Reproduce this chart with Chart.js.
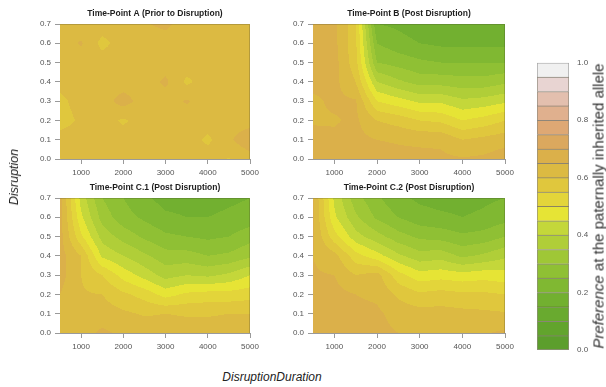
<!DOCTYPE html>
<html>
<head>
<meta charset="utf-8">
<script src="https://cdn.jsdelivr.net/npm/chart.js@4.4.1/dist/chart.umd.min.js"></script>
<style>
  body { margin: 0; background: #fff; }
  #wrap { position: relative; width: 606px; height: 387px; overflow: hidden; font-family: 'Liberation Sans', Arial, sans-serif; }
  canvas { position: absolute; }
  .lbl { position: absolute; white-space: nowrap; color: #222; font-size: 12px; transform: translate(-50%, -50%); }
  .rot { transform: translate(-50%, -50%) rotate(-90deg); }
</style>
</head>
<body>
<div id="wrap">
  <canvas id="panelA" width="300" height="185" style="left:0;top:0"></canvas>
  <canvas id="panelB" width="300" height="185" style="left:253px;top:0"></canvas>
  <canvas id="panelC1" width="300" height="185" style="left:0;top:174px"></canvas>
  <canvas id="panelC2" width="300" height="185" style="left:253px;top:174px"></canvas>
  <canvas id="colorbar" width="86" height="320" style="left:520px;top:50px"></canvas>
  <div class="lbl rot" style="left:14px;top:177px;font-style:italic;font-size:12.5px">Disruption</div>
  <div class="lbl" style="left:272px;top:377px;font-style:italic">DisruptionDuration</div>
  <div class="lbl rot" style="left:598px;top:206px;font-size:15px;color:#333"><i>Preference</i> at the paternally inherited allele</div>
</div>
<script>
// grid axes
const durations = [500, 1000, 1500, 2000, 2500, 3000, 3500, 4000, 4500, 5000];
const disruptions = [0.0, 0.1, 0.2, 0.3, 0.4, 0.5, 0.6, 0.7];
const durationTicks = [1000, 2000, 3000, 4000, 5000];
const disruptionTicks = [0.0, 0.1, 0.2, 0.3, 0.4, 0.5, 0.6, 0.7];

// preference values, one row per disruption (0.0 -> 0.7), one column per duration
const prefA = [
  [0.598, 0.625, 0.625, 0.625, 0.625, 0.625, 0.625, 0.625, 0.597, 0.625],
  [0.625, 0.625, 0.625, 0.625, 0.625, 0.625, 0.625, 0.590, 0.640, 0.690],
  [0.575, 0.610, 0.625, 0.592, 0.625, 0.625, 0.625, 0.625, 0.625, 0.625],
  [0.585, 0.625, 0.625, 0.672, 0.625, 0.625, 0.655, 0.625, 0.625, 0.625],
  [0.620, 0.625, 0.625, 0.625, 0.625, 0.660, 0.590, 0.625, 0.625, 0.625],
  [0.625, 0.625, 0.625, 0.625, 0.625, 0.625, 0.625, 0.625, 0.625, 0.625],
  [0.625, 0.655, 0.585, 0.625, 0.625, 0.625, 0.625, 0.625, 0.625, 0.625],
  [0.625, 0.625, 0.625, 0.625, 0.645, 0.662, 0.625, 0.625, 0.625, 0.625]
];
const prefB = [
  [0.670, 0.670, 0.670, 0.670, 0.665, 0.665, 0.660, 0.655, 0.660, 0.680],
  [0.665, 0.660, 0.665, 0.650, 0.645, 0.640, 0.640, 0.600, 0.615, 0.630],
  [0.645, 0.645, 0.660, 0.600, 0.580, 0.550, 0.540, 0.500, 0.520, 0.550],
  [0.640, 0.660, 0.655, 0.500, 0.470, 0.440, 0.440, 0.410, 0.420, 0.440],
  [0.665, 0.665, 0.600, 0.400, 0.360, 0.330, 0.330, 0.320, 0.320, 0.340],
  [0.670, 0.670, 0.570, 0.300, 0.280, 0.260, 0.250, 0.250, 0.250, 0.250],
  [0.670, 0.665, 0.560, 0.250, 0.220, 0.200, 0.190, 0.190, 0.190, 0.190],
  [0.670, 0.665, 0.560, 0.200, 0.190, 0.170, 0.165, 0.165, 0.165, 0.170]
];
const prefC1 = [
  [0.630, 0.630, 0.660, 0.640, 0.630, 0.630, 0.625, 0.625, 0.625, 0.625],
  [0.640, 0.615, 0.625, 0.610, 0.595, 0.600, 0.595, 0.595, 0.600, 0.600],
  [0.650, 0.605, 0.600, 0.560, 0.530, 0.480, 0.510, 0.520, 0.520, 0.530],
  [0.670, 0.600, 0.550, 0.480, 0.430, 0.380, 0.400, 0.390, 0.410, 0.450],
  [0.670, 0.600, 0.440, 0.400, 0.360, 0.320, 0.320, 0.300, 0.310, 0.340],
  [0.670, 0.510, 0.380, 0.330, 0.290, 0.260, 0.250, 0.240, 0.250, 0.280],
  [0.670, 0.460, 0.330, 0.270, 0.240, 0.210, 0.200, 0.200, 0.210, 0.220],
  [0.670, 0.430, 0.300, 0.250, 0.210, 0.180, 0.180, 0.180, 0.190, 0.200]
];
const prefC2 = [
  [0.680, 0.675, 0.670, 0.665, 0.650, 0.640, 0.640, 0.640, 0.645, 0.660],
  [0.670, 0.670, 0.665, 0.660, 0.630, 0.620, 0.620, 0.615, 0.610, 0.605],
  [0.660, 0.665, 0.650, 0.640, 0.590, 0.560, 0.570, 0.560, 0.560, 0.550],
  [0.655, 0.650, 0.600, 0.620, 0.520, 0.470, 0.480, 0.470, 0.480, 0.470],
  [0.650, 0.620, 0.520, 0.470, 0.410, 0.370, 0.380, 0.340, 0.360, 0.390],
  [0.655, 0.520, 0.420, 0.370, 0.320, 0.290, 0.280, 0.260, 0.270, 0.300],
  [0.655, 0.460, 0.360, 0.290, 0.250, 0.220, 0.210, 0.200, 0.210, 0.230],
  [0.655, 0.440, 0.320, 0.260, 0.210, 0.190, 0.180, 0.180, 0.190, 0.200]
];

// contour levels (0.05 wide, 0.0 -> 1.0)
const levelStep = 0.05;
const levelColors = [
  '#5c9e2c', '#62a42d', '#69aa2f', '#72b030', '#80b832',
  '#8fc034', '#9fc736', '#b0ce38', '#c4d73a', '#e6e435',
  '#e3d53a', '#e0c73d', '#dcba42', '#dbb04a', '#dba85e',
  '#dea874', '#e0b08e', '#e3bfae', '#e8d4d2', '#f0f0f0'
];
const legendTicks = [0.0, 0.2, 0.4, 0.6, 0.8, 1.0];

Chart.defaults.font.family = "'Liberation Sans', Arial, sans-serif";

const levelRGB = levelColors.map(h => [1, 3, 5].map(k => parseInt(h.substr(k, 2), 16)));

function cellIndex(arr, v) {
  let i = 0;
  while (i < arr.length - 2 && v > arr[i + 1]) i++;
  return i;
}

function valueAt(grid, x, y) {
  const i = cellIndex(durations, x);
  const j = cellIndex(disruptions, y);
  const tx = Math.min(1, Math.max(0, (x - durations[i]) / (durations[i + 1] - durations[i])));
  const ty = Math.min(1, Math.max(0, (y - disruptions[j]) / (disruptions[j + 1] - disruptions[j])));
  return grid[j][i] * (1 - tx) * (1 - ty) + grid[j][i + 1] * tx * (1 - ty) +
         grid[j + 1][i] * (1 - tx) * ty + grid[j + 1][i + 1] * tx * ty;
}

function contourPlugin(grid) {
  return {
    id: 'contourFill',
    beforeDatasetsDraw(chart) {
      const area = chart.chartArea;
      const xs = chart.scales.x, ys = chart.scales.y;
      const w = Math.round(area.right - area.left), h = Math.round(area.bottom - area.top);
      const off = document.createElement('canvas');
      off.width = w; off.height = h;
      const octx = off.getContext('2d');
      const img = octx.createImageData(w, h);
      for (let py = 0; py < h; py++) {
        const yv = ys.getValueForPixel(area.top + py + 0.5);
        for (let px = 0; px < w; px++) {
          const xv = xs.getValueForPixel(area.left + px + 0.5);
          const v = valueAt(grid, xv, yv);
          const lvl = Math.max(0, Math.min(levelColors.length - 1, Math.floor(v / levelStep)));
          const c = levelRGB[lvl];
          const o = (py * w + px) * 4;
          img.data[o] = c[0]; img.data[o + 1] = c[1]; img.data[o + 2] = c[2]; img.data[o + 3] = 255;
        }
      }
      octx.putImageData(img, 0, 0);
      const ctx = chart.ctx;
      ctx.save();
      ctx.drawImage(off, area.left, area.top, w, h);
      ctx.strokeStyle = 'rgba(60,60,40,0.25)';
      ctx.lineWidth = 1;
      ctx.beginPath();
      ctx.moveTo(area.left, area.top + 0.5);
      ctx.lineTo(area.right - 0.5, area.top + 0.5);
      ctx.lineTo(area.right - 0.5, area.bottom);
      ctx.stroke();
      ctx.restore();
    }
  };
}

const tickFont = { size: 8 };
const axisGrid = { drawOnChartArea: false, drawTicks: true, tickLength: 5, color: '#9a9a9a' };

function makePanel(id, title, grid, padRight) {
  new Chart(document.getElementById(id), {
    type: 'scatter',
    data: { datasets: [{ data: [], pointRadius: 0 }] },
    options: {
      responsive: false,
      animation: false,
      layout: { padding: { left: 0, right: padRight, top: 0, bottom: 0 } },
      plugins: {
        legend: { display: false },
        tooltip: { enabled: false },
        title: {
          display: true, text: title, fullSize: false, color: '#1e1e1e',
          font: { size: 8.5, weight: 'bold', lineHeight: '9px' },
          padding: { top: 9, bottom: 6 }
        }
      },
      scales: {
        x: {
          type: 'linear', min: 500, max: 5000,
          afterBuildTicks: s => { s.ticks = durationTicks.map(v => ({ value: v })); },
          afterFit: s => { s.height = 26; },
          ticks: { color: '#555', font: tickFont, padding: 4, maxRotation: 0, callback: v => String(v) },
          grid: axisGrid,
          border: { display: true, color: '#9a9a9a' }
        },
        y: {
          type: 'linear', min: 0, max: 0.7,
          afterBuildTicks: s => { s.ticks = disruptionTicks.map(v => ({ value: v })); },
          afterFit: s => { s.width = 60; },
          ticks: { color: '#555', font: tickFont, padding: 4, callback: v => v.toFixed(1) },
          grid: axisGrid,
          border: { display: true, color: '#9a9a9a' }
        }
      }
    },
    plugins: [contourPlugin(grid)]
  });
}

makePanel('panelA', 'Time-Point A (Prior to Disruption)', prefA, 50);
makePanel('panelB', 'Time-Point B (Post Disruption)', prefB, 48);
makePanel('panelC1', 'Time-Point C.1 (Post Disruption)', prefC1, 50);
makePanel('panelC2', 'Time-Point C.2 (Post Disruption)', prefC2, 48);

// colour key
new Chart(document.getElementById('colorbar'), {
  type: 'bar',
  data: {
    labels: [''],
    datasets: levelColors.map((c, k) => ({
      data: [levelStep],
      backgroundColor: c,
      borderColor: k === levelColors.length - 1 ? '#a0a0a0' : 'rgba(70,60,40,0.6)',
      borderWidth: 1,
      borderSkipped: k === 0 ? false : 'start',
      categoryPercentage: 1,
      barPercentage: 1
    }))
  },
  options: {
    responsive: false,
    animation: false,
    layout: { padding: { left: 17, right: 0, top: 12, bottom: 20 } },
    plugins: { legend: { display: false }, tooltip: { enabled: false } },
    scales: {
      x: { stacked: true, display: false },
      y: {
        stacked: true, position: 'right', min: 0, max: 1,
        afterBuildTicks: s => { s.ticks = legendTicks.map(v => ({ value: v })); },
        afterFit: s => { s.width = 37; },
        ticks: { color: '#555', font: tickFont, padding: 8, callback: v => v.toFixed(1) },
        grid: { display: false, drawTicks: false },
        border: { display: false }
      }
    }
  }
});
</script>
</body>
</html>
